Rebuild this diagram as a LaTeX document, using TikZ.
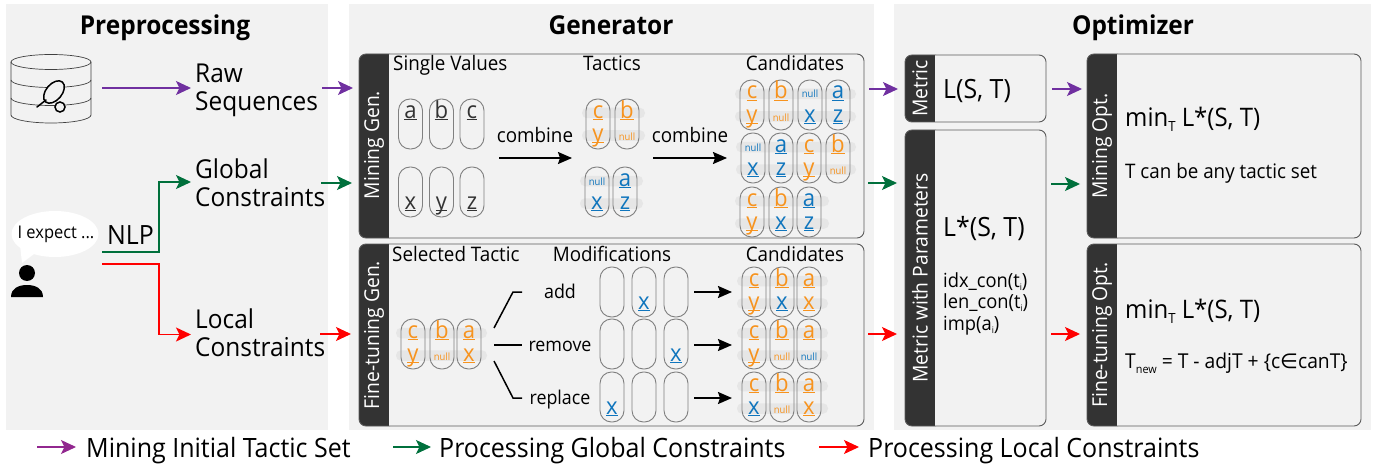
\documentclass[tikz,border=0pt]{standalone}
\usepackage{fontspec}
\setmainfont[FakeStretch=0.94]{Open Sans}
\newfontfamily\symf{DejaVu Sans}
\usetikzlibrary{arrows.meta}
\definecolor{panelbg}{HTML}{F2F2F2}
\definecolor{barc}{HTML}{333333}
\definecolor{purp}{HTML}{7030A0}
\definecolor{legp}{HTML}{92278F}
\definecolor{gree}{HTML}{00703C}
\definecolor{redd}{HTML}{FF0000}
\definecolor{oran}{HTML}{F7931E}
\definecolor{blu}{HTML}{0F75BD}
\definecolor{bandc}{HTML}{E6E6E6}
\newcommand\fs[1]{\fontsize{#1}{#1}\selectfont}
\newsavebox\ulbox
\newcommand\fixul[1]{\sbox\ulbox{#1}\rlap{\rule[-2.2pt]{\wd\ulbox}{1pt}}\usebox\ulbox}
\newcommand\ol[1]{\textcolor{oran}{\fs{23.5}\fixul{#1}}}
\newcommand\bl[1]{\textcolor{blu}{\fs{23.5}\fixul{#1}}}
\newcommand\kl[1]{\textcolor{barc}{\fs{23.5}\fixul{#1}}}
\newcommand\onull{\raisebox{1pt}{\textcolor{oran}{\fs{10}null}}}
\newcommand\bnull{\raisebox{1pt}{\textcolor{blu}{\fs{10}null}}}
\newcounter{pc}
% pill: x, top y, top text, bottom text
\newcommand\pill[4]{\stepcounter{pc}%
  \node[pillbox] (p\thepc) at (#1,#2+25) {};
  \node[pilltext] (pt\thepc) at (#1,#2+19) {#3};
  \node[pilltext] (pb\thepc) at (#1,#2+42) {#4};}
% pair of grey bands: x1, x2, top y of pill
\newcommand\bands[3]{\stepcounter{pc}%
  \node[bandbox,minimum width={#2-#1}] (bt\thepc) at ({(#1+#2)/2},#3+14) {};
  \node[bandbox,minimum width={#2-#1}] (bb\thepc) at ({(#1+#2)/2},#3+36.5) {};}
% titled box: name, x1,y1,x2,y2,bar right, label shift
\newcommand\tbox[7]{%
  \fill[barc,rounded corners=7pt] (#2,#3) rectangle (#6+8,#5);
  \fill[panelbg] (#6,#3) rectangle (#6+9,#5);
  \node[framebox,minimum width={#4-#2},minimum height={#5-#3}] (#1) at ({(#2+#4)/2},{(#3+#5)/2}) {};
  \node[barlabel] (#1l) at ({(#2+#6)/2},{(#3+#5)/2+#7}) {\csname lab#1\endcsname};}
\tikzset{
  pillbox/.style={draw=black!50,line width=0.9pt,rounded corners=11.5pt,minimum width=24pt,minimum height=50pt,inner sep=0pt},
  pilltext/.style={anchor=base,inner sep=0pt},
  bandbox/.style={fill=bandc,rounded corners=5pt,minimum height=10.5pt,inner sep=0pt},
  framebox/.style={draw=black!65,line width=0.9pt,rounded corners=7pt,inner sep=0pt},
  barlabel/.style={white,rotate=90,font=\fs{20.5},inner sep=0pt},
  lbl/.style={anchor=base west,inner sep=0pt},
  ctr/.style={anchor=base,inner sep=0pt},
  flow/.style={line width=1.6pt,-{Stealth[length=15pt,width=14pt,inset=3.5pt]}},
  blk/.style={line width=1.8pt,black,-{Stealth[length=14pt,width=12pt,inset=2pt]}},
}
\begin{document}
\begin{tikzpicture}[x=1pt,y=-1pt]
\useasboundingbox (0,0) rectangle (1375,468);
% panels
\node[fill=panelbg,minimum width=322pt,minimum height=426pt,inner sep=0pt] (panA) at (167,217) {};
\node[fill=panelbg,minimum width=525pt,minimum height=426pt,inner sep=0pt] (panB) at (611.5,217) {};
\node[fill=panelbg,minimum width=477pt,minimum height=426pt,inner sep=0pt] (panC) at (1132.5,217) {};
% titles
\node[ctr,font=\fs{26}\bfseries] (t1) at (165,34.5) {Preprocessing};
\node[ctr,font=\fs{26}\bfseries] (t2) at (611,34.5) {Generator};
\node[ctr,font=\fs{26}\bfseries] (t3) at (1133,34.5) {Optimizer};
% database
\draw[black!75,line width=0.7pt] (11,62) -- (11,115) arc[start angle=180,end angle=360,x radius=40,y radius=-8] -- (91,62);
\draw[black!75,line width=0.7pt] (51,62) ellipse[x radius=40,y radius=7.5];
\draw[black!75,line width=0.7pt] (11,80) arc[start angle=180,end angle=360,x radius=40,y radius=-7.5];
\draw[black!75,line width=0.7pt] (11,98) arc[start angle=180,end angle=360,x radius=40,y radius=-7.5];
\draw[black,line width=1.5pt,fill=panelbg,rotate around={50:(54,92)}] (54,92) ellipse[x radius=13,y radius=8];
\draw[black,line width=1.5pt,line cap=round] (46,100) -- (37,107);
\draw[black,line width=1.5pt,fill=panelbg] (60,107) circle[radius=5];
% user
\fill[white] (22,263) -- (20,245) -- (34,254) -- cycle;
\fill[white] (55,234) ellipse[x radius=43.5,y radius=23];
\node[inner sep=0pt,font=\fs{17.5}] (say) at (56,234) {I expect ...};
\fill[black] (27,273) circle[radius=8];
\fill[black] (11,297) .. controls (11,288) and (19,285) .. (27,285) .. controls (35,285) and (43,288) .. (43,297) -- cycle;
\node[lbl,font=\fs{26.5}] (nlp) at (107,244) {NLP};
% texts
\node[lbl,font=\fs{26}] (raw1) at (195,82.5) {Raw};
\node[lbl,font=\fs{26}] (raw2) at (195,111) {Sequences};
\node[lbl,font=\fs{26}] (glo1) at (195,178) {Global};
\node[lbl,font=\fs{26}] (glo2) at (195,206.5) {Constraints};
\node[lbl,font=\fs{26}] (loc1) at (195,328) {Local};
\node[lbl,font=\fs{26}] (loc2) at (195,356.5) {Constraints};
% preprocessing arrows
\coordinate (a1) at (102,88); \coordinate (a2) at (191,88);
\draw[flow,purp] (a1) -- (a2);
\coordinate (g1) at (102,252); \coordinate (g2) at (191,182);
\draw[flow,gree,line width=1.3pt] (g1) -| (159,182) -- (g2);
\coordinate (r1) at (102,264); \coordinate (r2) at (191,334.5);
\draw[flow,redd] (r1) -| (159,334.5) -- (r2);
% generator boxes
\def\labMG{Mining Gen.}\def\labFG{Fine-tuning Gen.}
\def\labME{Metric}\def\labMP{Metric with Parameters}
\def\labMO{Mining Opt.}\def\labFO{Fine-tuning Opt.}
\tbox{MG}{359}{54}{864}{238}{389}{-1}
\tbox{FG}{359}{244}{864}{426}{389}{0}
\tbox{ME}{905}{55}{1046}{122}{935}{0}
\tbox{MP}{905}{130}{1046}{426}{935}{0}
\tbox{MO}{1087}{54}{1361}{238}{1117}{0}
\tbox{FO}{1087}{244}{1361}{426}{1117}{0}
% generator labels
\node[lbl,font=\fs{20}] (sv) at (393,70.5) {Single Values};
\node[ctr,font=\fs{20}] (tc) at (612,70.5) {Tactics};
\node[ctr,font=\fs{20}] (c1) at (795,70.5) {Candidates};
\node[lbl,font=\fs{20}] (st) at (392,261) {Selected Tactic};
\node[ctr,font=\fs{20}] (md) at (612,261) {Modifications};
\node[ctr,font=\fs{20}] (c2) at (795,261) {Candidates};
\node[ctr,font=\fs{20}] (cb1) at (535,142.5) {combine};
\node[ctr,font=\fs{20}] (cb2) at (690,142.5) {combine};
\coordinate (ca1) at (499,158); \coordinate (cb1e) at (572,158);
\coordinate (ca2) at (653,158); \coordinate (cb2e) at (727,158);
\draw[blk] (ca1) -- (cb1e);
\draw[blk] (ca2) -- (cb2e);
% single values
\pill{410.5}{99}{\kl{a}}{}\pill{441.5}{99}{\kl{b}}{}\pill{472}{99}{\kl{c}}{}
\pill{410.5}{167}{}{\kl{x}}\pill{441.5}{167}{}{\kl{y}}\pill{472}{167}{}{\kl{z}}
% tactics
\bands{582}{645}{99}
\pill{598}{99}{\ol{c}}{\ol{y}}\pill{627}{99}{\ol{b}}{\onull}
\bands{580}{643}{167}
\pill{597}{167}{\bnull}{\bl{x}}\pill{625}{167}{\bl{a}}{\bl{z}}
% candidates mining
\bands{735}{856}{80}\bands{736}{856}{133}\bands{735}{829}{187}
\pill{752}{80}{\ol{c}}{\ol{y}}\pill{781}{80}{\ol{b}}{\onull}\pill{810}{80}{\bnull}{\bl{x}}\pill{838}{80}{\bl{a}}{\bl{z}}
\pill{753}{133}{\bnull}{\bl{x}}\pill{781}{133}{\bl{a}}{\bl{z}}\pill{809}{133}{\ol{c}}{\ol{y}}\pill{838}{133}{\ol{b}}{\onull}
\pill{752}{187}{\ol{c}}{\ol{y}}\pill{781}{187}{\ol{b}}{\bl{x}}\pill{809}{187}{\bl{a}}{\bl{z}}
% selected tactic
\bands{396}{487}{319}
\pill{413}{319}{\ol{c}}{\ol{y}}\pill{442}{319}{\ol{b}}{\onull}\pill{469}{319}{\ol{a}}{\ol{x}}
% branches
\node[ctr,font=\fs{19}] (add) at (560,298) {add};
\node[ctr,font=\fs{19}] (rem) at (560,351) {remove};
\node[ctr,font=\fs{19}] (rep) at (560,404) {replace};
\coordinate (br1) at (494,328); \coordinate (br2) at (494,345); \coordinate (br3) at (494,361);
\coordinate (ad) at (522,292); \coordinate (re) at (522,345); \coordinate (rp) at (522,398);
\draw[line width=1.5pt] (br1) -- (513,292) -- (ad);
\draw[line width=1.5pt] (br2) -- (re);
\draw[line width=1.5pt] (br3) -- (513,398) -- (rp);
% modifications
\pill{612}{267}{}{}\pill{644}{267}{}{\bl{x}}\pill{676}{267}{}{}
\pill{612}{319}{}{}\pill{644}{319}{}{}\pill{676}{319}{}{\bl{x}}
\pill{612}{372}{}{\bl{x}}\pill{644}{372}{}{}\pill{676}{372}{}{}
\foreach \yy/\nm in {292/m,345/n,398/o}{
  \coordinate (\nm1) at (694,\yy); \coordinate (\nm2) at (732,\yy);
  \draw[blk] (\nm1) -- (\nm2);
}
% candidates fine
\bands{737}{828}{267}\bands{737}{828}{319}\bands{737}{828}{372}
\pill{754}{267}{\ol{c}}{\ol{y}}\pill{782}{267}{\ol{b}}{\bl{x}}\pill{809}{267}{\ol{a}}{\ol{x}}
\pill{754}{319}{\ol{c}}{\ol{y}}\pill{782}{319}{\ol{b}}{\onull}\pill{809}{319}{\ol{a}}{\bnull}
\pill{754}{372}{\ol{c}}{\bl{x}}\pill{782}{372}{\ol{b}}{\onull}\pill{809}{372}{\ol{a}}{\ol{x}}
% between-panel arrows
\foreach \xa/\xb/\yy/\cc/\nm in {322/353/88/purp/u1,321/352/183/gree/u2,320/351/334/redd/u3,
  869/898/89/purp/u4,868/897/183/gree/u5,868/897/334/redd/u6,
  1052/1082/89/purp/u7,1051/1080/184/gree/u8,1051/1080/334/redd/u9}{
  \coordinate (\nm a) at (\xa,\yy); \coordinate (\nm b) at (\xb,\yy);
  \draw[flow,\cc,line width=1.4pt] (\nm a) -- (\nm b);
}
% optimizer text
\node[lbl,font=\fs{26.5}] (lst) at (943,99) {L(S, T)};
\node[lbl,font=\fs{26.5}] (lsst) at (943,236) {L*(S, T)};
\node[lbl,font=\fs{19.5}] (idx) at (943,287) {idx\_con(t\raisebox{-3pt}{\fs{9}i})};
\node[lbl,font=\fs{19.5}] (len) at (943,308) {len\_con(t\raisebox{-3pt}{\fs{9}i})};
\node[lbl,font=\fs{19.5}] (imp) at (943,330) {imp(a\raisebox{-3pt}{\fs{9}i})};
\node[lbl,font=\fs{25.5}] (m1) at (1125,127) {min\raisebox{-5pt}{\fs{14}T} L*(S, T)};
\node[lbl,font=\fs{20}] (m1b) at (1125,178) {T can be any tactic set};
\node[lbl,font=\fs{25.5}] (m2) at (1125,318) {min\raisebox{-5pt}{\fs{14}T} L*(S, T)};
\node[lbl,font=\fs{20.5}] (m2b) at (1125,368) {T\raisebox{-5pt}{\fs{11.5}new} = T - adjT + \{c{\symf ∈}canT\}};
% legend
\coordinate (l1a) at (37,447); \coordinate (l1b) at (76,447);
\coordinate (l2a) at (393,447); \coordinate (l2b) at (431,447);
\coordinate (l3a) at (819,447); \coordinate (l3b) at (859,447);
\draw[flow,legp,line width=1.2pt] (l1a) -- (l1b);
\draw[flow,gree,line width=1.2pt] (l2a) -- (l2b);
\draw[flow,redd,line width=1.2pt] (l3a) -- (l3b);
\node[lbl,font=\fs{26.6}] (lg1) at (86,457) {Mining Initial Tactic Set};
\node[lbl,font=\fs{26.6}] (lg2) at (439,457) {Processing Global Constraints};
\node[lbl,font=\fs{26.6}] (lg3) at (868,457) {Processing Local Constraints};
\end{tikzpicture}
\end{document}
